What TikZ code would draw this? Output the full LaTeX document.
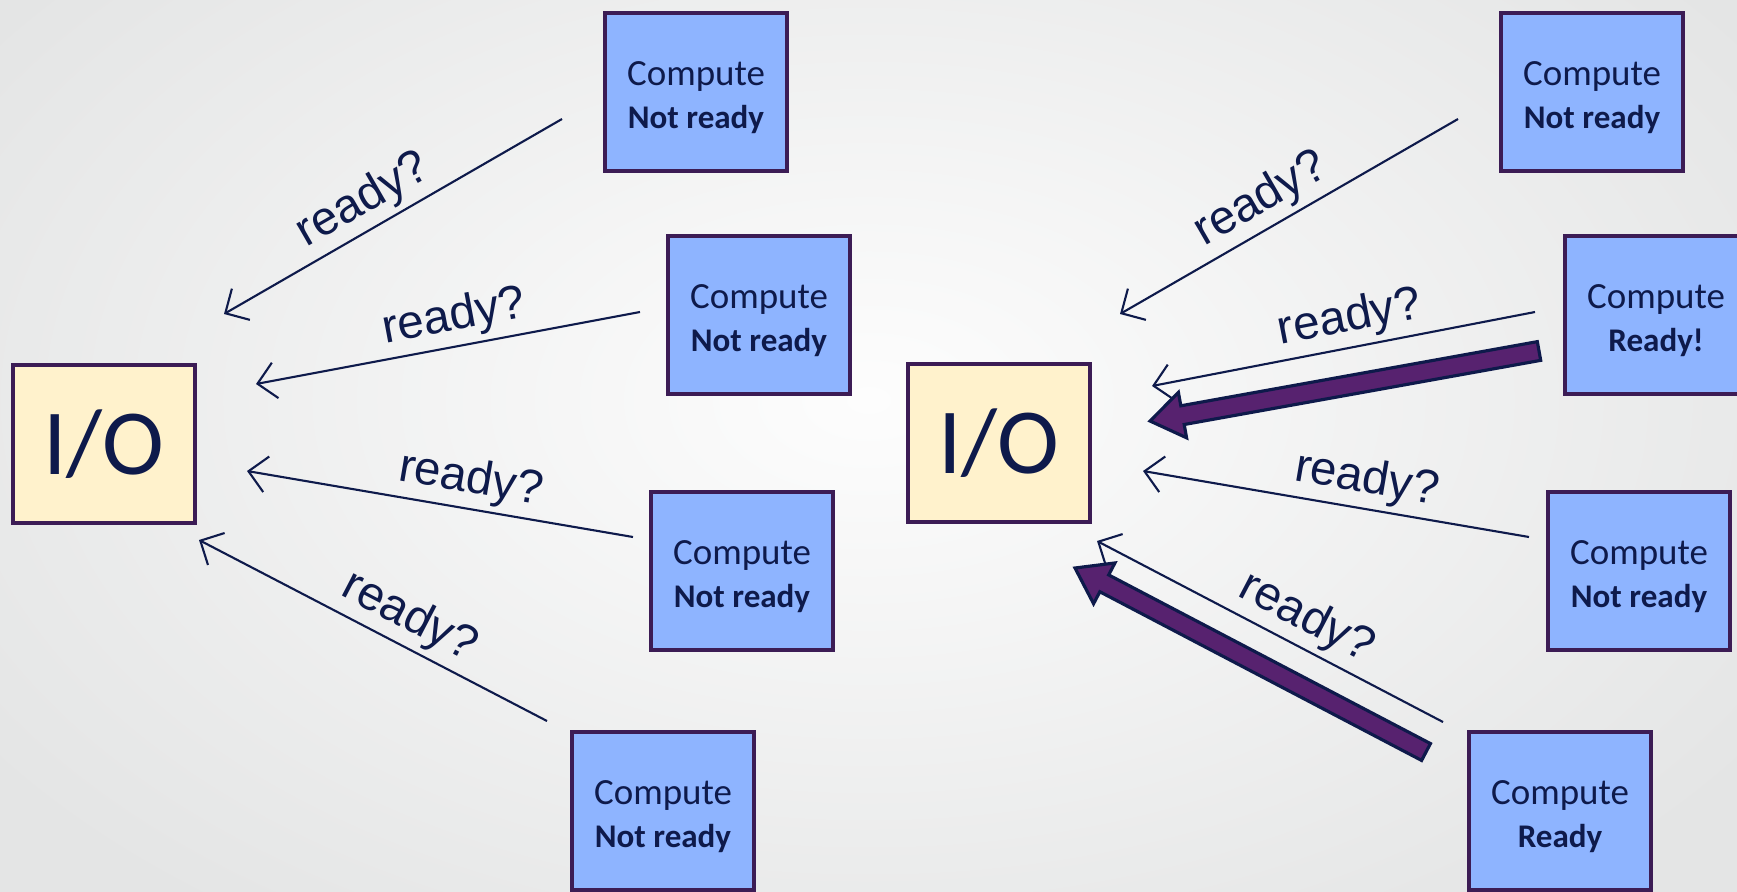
\documentclass[tikz,border=0pt]{standalone}
\usepackage{fontspec}
\setmainfont{Carlito}
\newfontfamily\lblfont{Liberation Sans}
\usetikzlibrary{arrows.meta,calc}
\definecolor{ink}{HTML}{0E1A4B}
\definecolor{rim}{HTML}{3C1C55}
\definecolor{cpfill}{HTML}{8EB4FF}
\definecolor{iofill}{HTML}{FFF2CC}
\definecolor{fat}{HTML}{57226F}
\definecolor{bgin}{HTML}{FDFDFD}
\definecolor{bgout}{HTML}{E4E5E5}
% box text: state in bold below
\newcommand{\cpt}[1]{\rule{0pt}{10pt}Compute\\{\fontsize{9.4}{12}\selectfont\bfseries #1}}
% fat arrow: name, tail, tip
\newcommand{\fatarrow}[3]{%
  \coordinate (#1b) at ($(#3)!0.33cm!(#2)$);
  \filldraw[fa] ($(#2)!0.095cm!90:(#3)$) -- ($(#1b)!0.095cm!90:(#3)$) -- ($(#1b)!0.23cm!90:(#3)$)
    -- (#3) -- ($(#1b)!0.23cm!-90:(#3)$) -- ($(#1b)!0.095cm!-90:(#3)$) -- ($(#2)!0.095cm!-90:(#3)$) -- cycle;}

\begin{document}
\begin{tikzpicture}[x=0.01cm,y=-0.01cm,
  cp/.style={draw=rim,line width=1pt,fill=cpfill,minimum width=1.82cm,minimum height=1.58cm,
    align=center,text=ink,inner sep=0pt,font=\fontsize{10.5}{12}\selectfont},
  io/.style={draw=rim,line width=1pt,fill=iofill,minimum width=1.82cm,minimum height=1.58cm,
    text=ink,inner sep=0pt,font=\fontsize{26.5}{30}\selectfont},
  pl/.style={draw=ink,line width=0.6pt,{Straight Barb[length=1.8mm,width=3.6mm]}-},
  lbl/.style={sloped,above,inner sep=1.5pt,text=ink,font=\lblfont\fontsize{13.5}{15}\selectfont},
  fa/.style={draw=ink,fill=fat,line width=0.9pt,line join=miter}]
  \useasboundingbox (0,0) rectangle (1737,891);
  \clip (0,0) rectangle (1737,891);
  \shade[inner color=bgin,outer color=bgout] (-200,-250) rectangle (1937,1050);
  % left: polling, nobody ready
  \node[io](ioa) at (104,444){I/O};
  \node[cp](a1) at (696,92){\cpt{Not ready}};
  \node[cp](a2) at (759,315){\cpt{Not ready}};
  \node[cp](a3) at (742,571){\cpt{Not ready}};
  \node[cp](a4) at (663,811){\cpt{Not ready}};
  \coordinate (a1s) at (562,119); \coordinate (a1t) at (224,314);
  \coordinate (a2s) at (640,312); \coordinate (a2t) at (256,384);
  \coordinate (a3s) at (633,537); \coordinate (a3t) at (247,471);
  \coordinate (a4s) at (547,721); \coordinate (a4t) at (199,540);
  \draw[pl] (a1t) -- (a1s) node[lbl,pos=0.455]{ready?};
  \draw[pl] (a2t) -- (a2s) node[lbl,pos=0.53]{ready?};
  \draw[pl] (a3t) -- (a3s) node[lbl,pos=0.567]{ready?};
  \draw[pl] (a4t) -- (a4s) node[lbl,pos=0.567]{ready?};
  % right: two of them answer
  \node[io](iob) at (999,443){I/O};
  \node[cp](b1) at (1592,92){\cpt{Not ready}};
  \node[cp](b2) at (1656,315){\cpt{Ready!}};
  \node[cp](b3) at (1639,571){\cpt{Not ready}};
  \node[cp](b4) at (1560,811){\cpt{Ready}};
  \coordinate (b1s) at (1458,119); \coordinate (b1t) at (1120,314);
  \coordinate (b2s) at (1535,312); \coordinate (b2t) at (1152,386);
  \coordinate (b3s) at (1529,537); \coordinate (b3t) at (1143,471);
  \coordinate (b4s) at (1443,722); \coordinate (b4t) at (1097,541);
  \draw[pl] (b1t) -- (b1s) node[lbl,pos=0.46]{ready?};
  \draw[pl] (b2t) -- (b2s) node[lbl,pos=0.53]{ready?};
  \draw[pl] (b3t) -- (b3s) node[lbl,pos=0.567]{ready?};
  \draw[pl] (b4t) -- (b4s) node[lbl,pos=0.567]{ready?};
  % answers
  \coordinate (f1s) at (1539,351); \coordinate (f1t) at (1150,421);
  \coordinate (f2s) at (1426,752); \coordinate (f2t) at (1075,568);
  \fatarrow{f1}{f1s}{f1t}
  \fatarrow{f2}{f2s}{f2t}
\end{tikzpicture}
\end{document}
